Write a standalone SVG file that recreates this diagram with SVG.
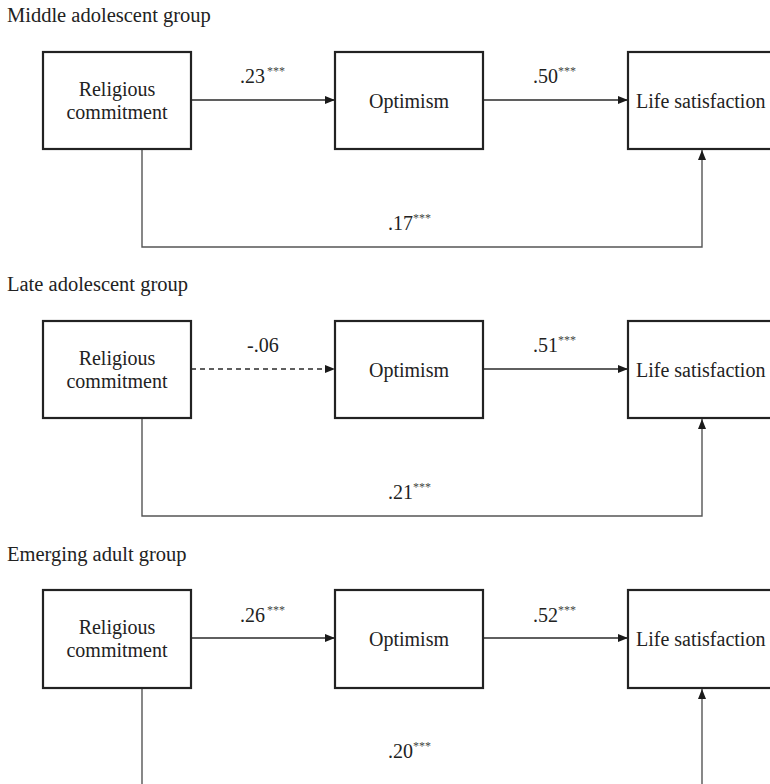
<svg xmlns="http://www.w3.org/2000/svg" width="770" height="784" viewBox="0 0 770 784">
<defs>
<marker id="ah" viewBox="0 0 10 8" refX="10" refY="4" markerWidth="10" markerHeight="8" markerUnits="userSpaceOnUse" orient="auto">
<path d="M0,0 L10,4 L0,8 Z" fill="#1a1a1a"/>
</marker>
<style>
text{font-family:"Liberation Serif","Times New Roman",serif;fill:#222;}
.t{font-size:20.5px;}
.n{font-size:20px;}
.c{text-anchor:middle;}
.l{font-size:20px;}
.s{font-size:12px;fill:#444;}
.box{fill:#fff;stroke:#222;stroke-width:2.2;}
.e{fill:none;stroke:#2a2a2a;stroke-width:1.3;}
.g{fill:none;stroke:#555;stroke-width:1.4;}
.d{stroke-dasharray:5,4;}
</style>
</defs>
<rect width="770" height="784" fill="#fff"/>

<text class="t" x="7" y="22">Middle adolescent group</text>
<text class="t" x="7" y="291">Late adolescent group</text>
<text class="t" x="7" y="561">Emerging adult group</text>

<g id="connectors">
<line class="e" x1="191" y1="100" x2="335" y2="100" marker-end="url(#ah)"/>
<line class="e" x1="483" y1="100" x2="628" y2="100" marker-end="url(#ah)"/>
<polyline class="g" points="142,149 142,247 702,247 702,150" marker-end="url(#ah)"/>

<line class="e d" x1="191" y1="369" x2="335" y2="369" marker-end="url(#ah)"/>
<line class="e" x1="483" y1="369" x2="628" y2="369" marker-end="url(#ah)"/>
<polyline class="g" points="142,418 142,516 702,516 702,419" marker-end="url(#ah)"/>

<line class="e" x1="191" y1="638" x2="335" y2="638" marker-end="url(#ah)"/>
<line class="e" x1="483" y1="638" x2="628" y2="638" marker-end="url(#ah)"/>
<polyline class="g" points="142,688 142,790"/>
<polyline class="g" points="702,790 702,689" marker-end="url(#ah)"/>

<text class="l" x="240" y="83">.23</text><text class="s" x="267" y="75">***</text>
<text class="l" x="533" y="83">.50</text><text class="s" x="558" y="75">***</text>
<text class="l" x="388" y="230">.17</text><text class="s" x="413" y="222">***</text>

<text class="l" x="247" y="352">-.06</text>
<text class="l" x="533" y="352">.51</text><text class="s" x="558" y="344">***</text>
<text class="l" x="388" y="499">.21</text><text class="s" x="413" y="491">***</text>

<text class="l" x="240" y="622">.26</text><text class="s" x="267" y="614">***</text>
<text class="l" x="533" y="622">.52</text><text class="s" x="558" y="614">***</text>
<text class="l" x="388" y="758">.20</text><text class="s" x="413" y="750">***</text>
</g>

<g id="religious1"><rect class="box" x="43" y="52" width="148" height="97"/><text class="n c" x="117" y="96">Religious</text><text class="n c" x="117" y="119">commitment</text></g>
<g id="optimism1"><rect class="box" x="335" y="52" width="148" height="97"/><text class="n c" x="409" y="108">Optimism</text></g>
<g id="life1"><rect class="box" x="628" y="52" width="160" height="97"/><text class="n" x="636" y="108">Life satisfaction</text></g>

<g id="religious2"><rect class="box" x="43" y="321" width="148" height="97"/><text class="n c" x="117" y="365">Religious</text><text class="n c" x="117" y="388">commitment</text></g>
<g id="optimism2"><rect class="box" x="335" y="321" width="148" height="97"/><text class="n c" x="409" y="377">Optimism</text></g>
<g id="life2"><rect class="box" x="628" y="321" width="160" height="97"/><text class="n" x="636" y="377">Life satisfaction</text></g>

<g id="religious3"><rect class="box" x="43" y="590" width="148" height="98"/><text class="n c" x="117" y="634">Religious</text><text class="n c" x="117" y="657">commitment</text></g>
<g id="optimism3"><rect class="box" x="335" y="590" width="148" height="98"/><text class="n c" x="409" y="646">Optimism</text></g>
<g id="life3"><rect class="box" x="628" y="590" width="160" height="98"/><text class="n" x="636" y="646">Life satisfaction</text></g>
</svg>
